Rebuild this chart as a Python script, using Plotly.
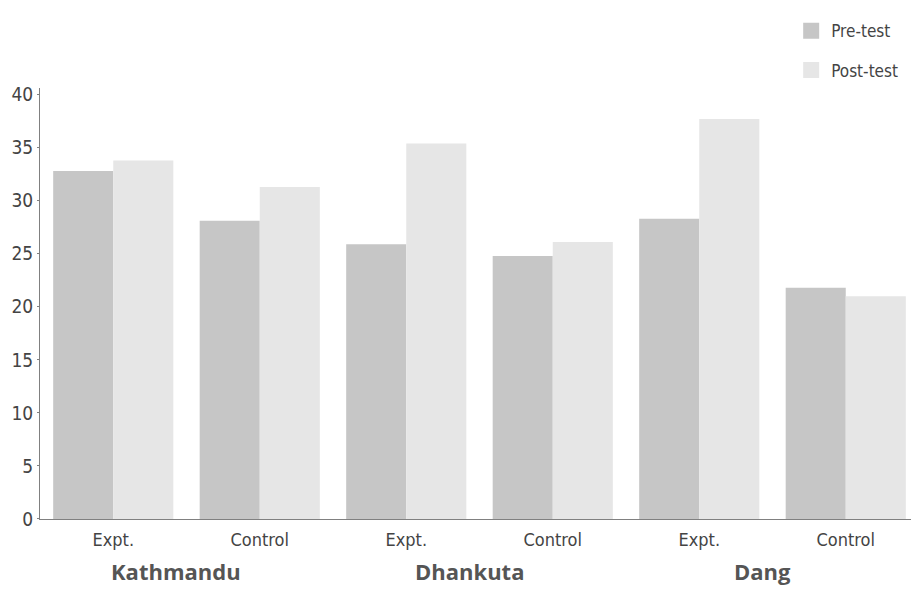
import plotly.graph_objects as go

categories = ["Kathmandu Expt.", "Kathmandu Control", "Dhankuta Expt.", "Dhankuta Control", "Dang Expt.", "Dang Control"]
tick_labels = ["Expt.", "Control", "Expt.", "Control", "Expt.", "Control"]
regions = ["Kathmandu", "Dhankuta", "Dang"]
pre_test = [32.8, 28.1, 25.9, 24.8, 28.3, 21.8]
post_test = [33.8, 31.3, 35.4, 26.1, 37.7, 21.0]
y_ticks = [0, 5, 10, 15, 20, 25, 30, 35, 40]

PRE_COLOR = "#c6c6c6"
POST_COLOR = "#e6e6e6"
cond_font = "Liberation Sans Narrow, DejaVu Sans Condensed, Arial Narrow, sans-serif"

fig = go.Figure()
fig.add_trace(go.Bar(x=categories, y=pre_test, name="Pre-test",
                     marker=dict(color=PRE_COLOR, line=dict(width=0)),
                     showlegend=False))
fig.add_trace(go.Bar(x=categories, y=post_test, name="Post-test",
                     marker=dict(color=POST_COLOR, line=dict(width=0)),
                     showlegend=False))
# legend entries with larger square swatches
fig.add_trace(go.Scatter(x=[None], y=[None], mode="markers", name="Pre-test",
                         marker=dict(symbol="square", size=20, color=PRE_COLOR),
                         legendgroup="a"))
fig.add_trace(go.Scatter(x=[None], y=[None], mode="markers", name="Post-test",
                         marker=dict(symbol="square", size=20, color=POST_COLOR),
                         legendgroup="b"))

for i, r in enumerate(regions):
    fig.add_annotation(x=2 * i + 0.43, y=0, xref="x", yref="paper",
                       yshift=-52, yanchor="middle", text=f"<b>{r}</b>",
                       showarrow=False,
                       font=dict(family="Open Sans, Noto Sans, sans-serif", size=22, color="#555555"))

# page body has an 8px margin, so the figure is sized/offset to compensate
fig.update_layout(
    width=911, height=583,
    margin=dict(l=32, r=0, t=78, b=72),
    paper_bgcolor="white", plot_bgcolor="white",
    barmode="group", bargap=0.18, bargroupgap=0,
    font=dict(family=cond_font, size=16, color="#444444"),
    legend=dict(x=0.982, xanchor="right", xref="paper",
                y=0.991, yanchor="top", yref="container",
                traceorder="grouped", tracegroupgap=14,
                font=dict(family=cond_font, size=17, color="#444444"),
                bgcolor="rgba(0,0,0,0)"),
    xaxis=dict(range=[-0.5, 5.5], tickmode="array", tickvals=categories,
               ticktext=tick_labels, showline=True, linecolor="#808080",
               linewidth=1, ticks="", showgrid=False, zeroline=False,
               automargin=False, ticklabelstandoff=4,
               tickfont=dict(family=cond_font, size=18, color="#444444")),
    yaxis=dict(range=[0, 40.6], tickvals=y_ticks, showline=True,
               linecolor="#808080", linewidth=1, ticks="outside", ticklen=2,
               tickcolor="#808080", showgrid=False, zeroline=False,
               automargin=False,
               tickfont=dict(family=cond_font, size=19, color="#444444")),
)

fig.write_html("out.html")
